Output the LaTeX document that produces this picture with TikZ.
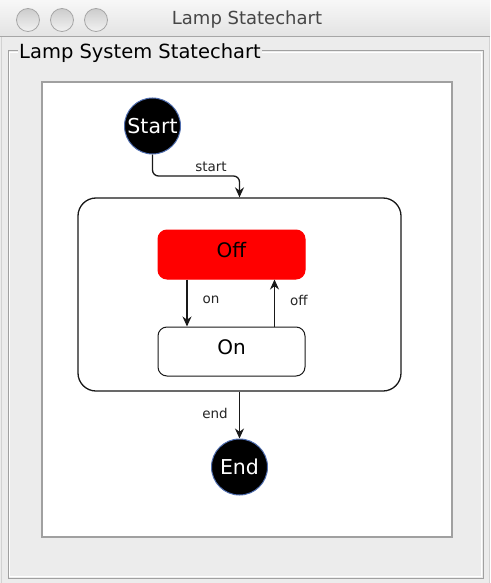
\documentclass[tikz,border=0pt]{standalone}
\usepackage{fontspec}
\setmainfont{DejaVu Sans}
\usetikzlibrary{arrows.meta,calc}
\definecolor{winbg}{RGB}{236,236,236}
\definecolor{titletxt}{RGB}{70,70,70}
\definecolor{ringblue}{RGB}{80,110,175}
\definecolor{offred}{RGB}{255,0,0}
\definecolor{linecol}{RGB}{25,25,25}
\definecolor{etch}{RGB}{160,160,160}
\tikzset{
  winbtn/.style={circle, minimum size=23pt, inner sep=0pt, draw=gray!70, line width=0.8pt, top color=gray!40, bottom color=gray!10},
  endpoint/.style={circle, minimum size=56pt, inner sep=0pt, fill=black, draw=ringblue, line width=1pt,
    text=white, font=\fontsize{20.5}{22}\selectfont},
  statebox/.style={rounded corners=9pt, minimum width=147pt, minimum height=49pt, inner sep=0pt,
    draw=linecol, line width=1pt, font=\fontsize{20}{22}\selectfont, text height=14.5pt, text depth=9pt},
  sysbox/.style={rounded corners=18pt, minimum width=323pt, minimum height=193pt, draw=linecol, line width=1.3pt},
  arr/.style={draw=linecol, line width=1.3pt, -{Stealth[length=10pt,width=9pt]}},
  lbl/.style={font=\fontsize{13.5}{15}\selectfont, text=black!85, inner sep=1pt},
}
\begin{document}
\begin{tikzpicture}[x=1pt,y=-1pt]
\useasboundingbox (0,0) rectangle (490,583);
% window
\fill[winbg] (0,0) rectangle (490,583);
\shade[top color=gray!6, bottom color=gray!22] (0,0) rectangle (490,37);
\draw[gray!70, line width=1pt] (0,37) -- (490,37);
\draw[gray!35] (1,37) -- (1,583) (489,37) -- (489,583);
\node[winbtn] (b1) at (28,20) {};
\node[winbtn] (b2) at (62,20) {};
\node[winbtn] (b3) at (96,20) {};
\node[text=titletxt, font=\fontsize{18}{20}\selectfont] (wtitle) at (247,20) {Lamp Statechart};
% group box
\draw[etch, line width=1pt] (8,51) rectangle (483,578);
\draw[white, line width=0.8pt] (9.5,52.5) rectangle (481.5,576.5);
\node[fill=winbg, font=\fontsize{19.5}{21}\selectfont, inner sep=1pt, anchor=west] (gtitle) at (18,53) {Lamp System Statechart};
% panel
\draw[etch, line width=1.3pt, fill=white] (42,82) rectangle (452,537);
% statechart
\node[endpoint] (start) at (152.5,126) {Start};
\node[sysbox] (sys) at (239.5,294.5) {};
\node[statebox, fill=offred, draw=offred] (off) at (231.5,254.5) {Off};
\node[statebox, fill=white] (on) at (231.5,351.5) {On};
\node[endpoint] (end) at (239.5,467) {End};
\coordinate (bend) at (239.5,176);
\draw[arr, rounded corners=6pt] (start.south) |- (bend) -- (sys.north);
\draw[arr] ([xshift=29.5pt]off.south west) -- ([xshift=29.5pt]on.north west);
\draw[arr] ([xshift=117pt]on.north west) -- ([xshift=117pt]off.south west);
\draw[arr] (sys.south) -- (end.north);
\node[lbl] (lstart) at (211,167) {start};
\node[lbl] (lon) at (211,300) {on};
\node[lbl] (loff) at (299,300) {off};
\node[lbl] (lend) at (215,413) {end};
\end{tikzpicture}
\end{document}
